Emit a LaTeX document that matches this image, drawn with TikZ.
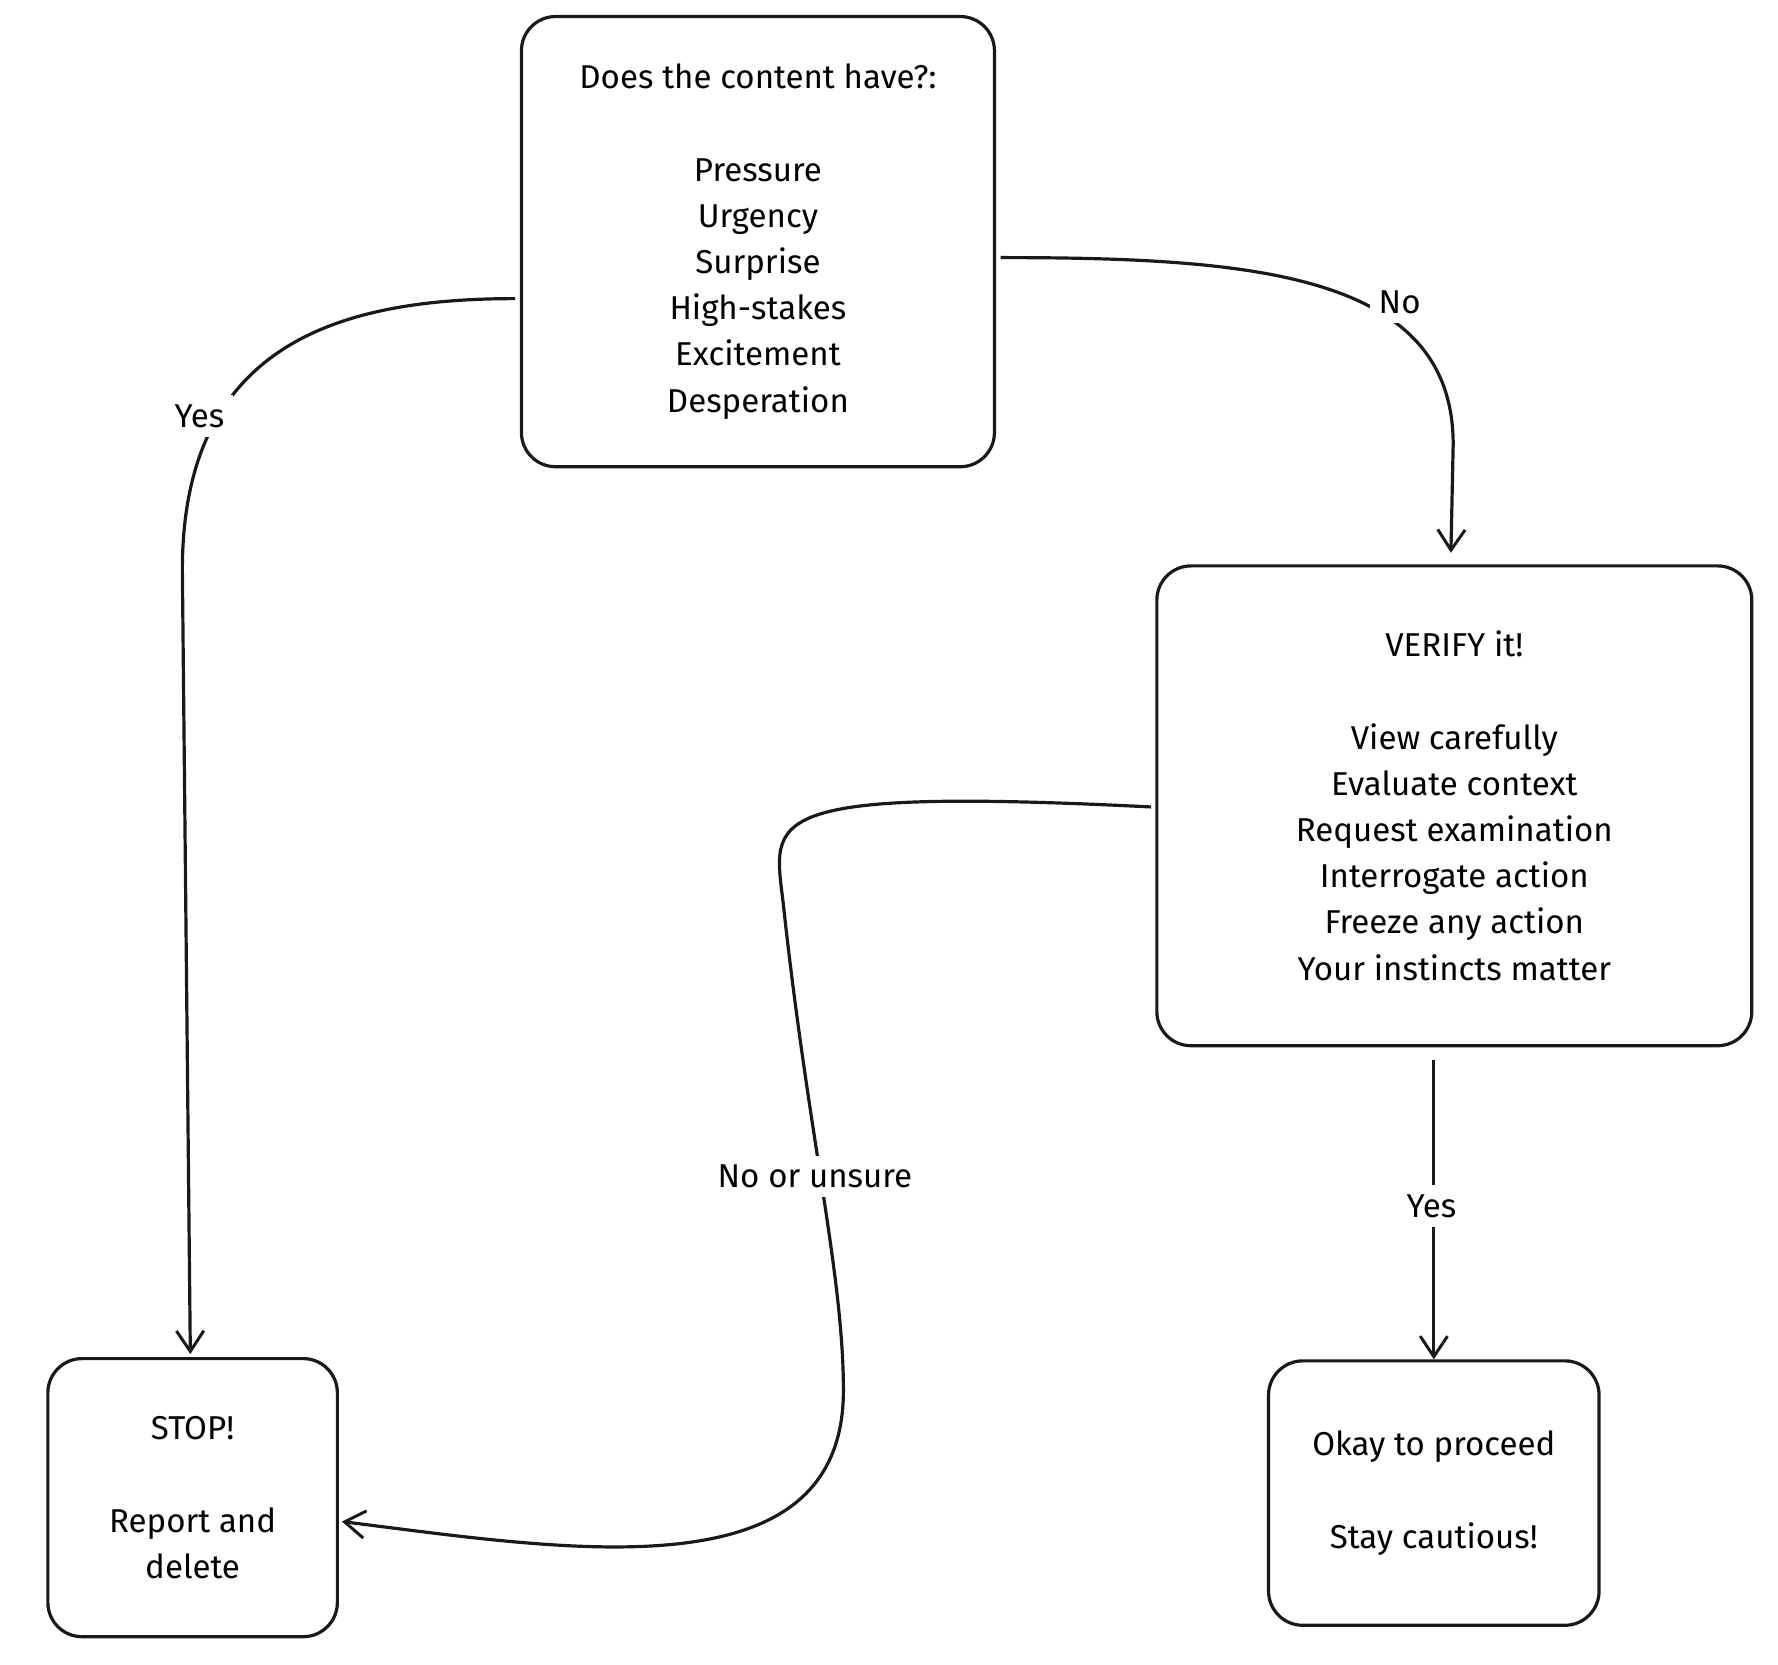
\documentclass[tikz,border=0pt]{standalone}
\usepackage{fontspec}
\setmainfont{Fira Sans}
\usetikzlibrary{arrows.meta}
\begin{document}
\begin{tikzpicture}[x=1pt,y=-1pt,
  box/.style={draw=black!90,line width=2.8pt,rounded corners=30pt,align=center,font=\fontsize{29}{40.5}\selectfont,inner sep=0pt},
  arr/.style={draw=black!90,line width=2.8pt,-{Straight Barb[length=18pt,width=24pt,line width=2.6pt]}},
  lab/.style={fill=white,font=\fontsize{29}{32}\selectfont,inner sep=8pt}]
\useasboundingbox (0,0) rectangle (1560,1460);
\node[box,minimum width=415pt,minimum height=395pt] (q) at (665,212) {Does the content have?:\\[40.5pt]Pressure\\Urgency\\Surprise\\High-stakes\\Excitement\\Desperation};
\node[box,minimum width=522pt,minimum height=421pt] (v) at (1276,707) {VERIFY it!\\[40.5pt]View carefully\\Evaluate context\\Request examination\\Interrogate action\\Freeze any action\\Your instincts matter};
\node[box,minimum width=254pt,minimum height=244pt] (s) at (169,1314) {STOP!\\[40.5pt]Report and\\delete};
\node[box,minimum width=290pt,minimum height=232pt] (o) at (1258,1310) {Okay to proceed\\[40.5pt]Stay cautious!};
\coordinate (q1) at (452,262);
\coordinate (q2) at (878,226);
\coordinate (v1) at (1010,708);
\coordinate (v2) at (1258,930);
\draw[arr] (q1) .. controls (300,262) and (160,300) .. (160,500) -- (167,1188);
\node[lab] at (175,365) {Yes};
\draw[arr] (q2) .. controls (1100,226) and (1275,240) .. (1275,390) -- (1273,485);
\node[lab] at (1228,265) {No};
\draw[arr] (v1) .. controls (650,690) and (680,720) .. (688,800) .. controls (710,1000) and (740,1120) .. (740,1220) .. controls (740,1400) and (500,1360) .. (300,1335);
\node[lab] at (715,1032) {No or unsure};
\draw[arr] (v2) -- (o.north -| v2);
\node[lab] at (1256,1058) {Yes};
\end{tikzpicture}
\end{document}
